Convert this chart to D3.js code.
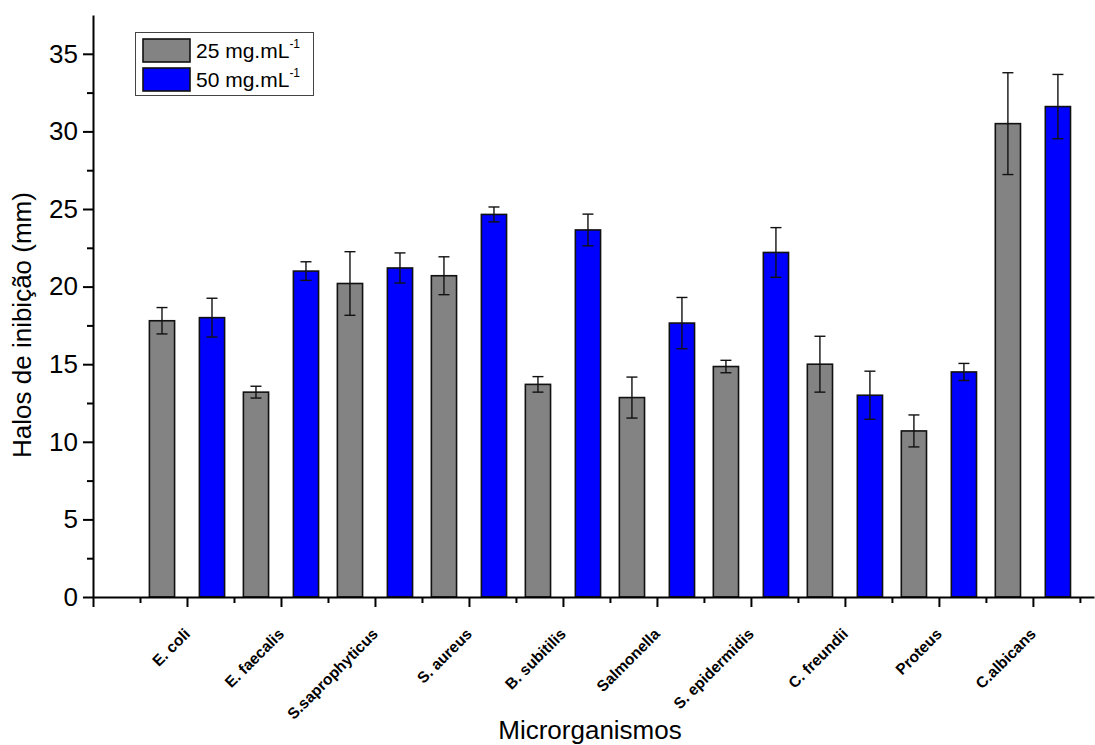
<!DOCTYPE html>
<html>
<head>
<meta charset="utf-8">
<script src="https://cdn.jsdelivr.net/npm/d3@7"></script>
<style>
    body { margin: 0; background: #fff; }
    text { font-family: Arial, "Liberation Sans", sans-serif; fill: #000; }
    .axis path, .axis line { stroke: #000; stroke-width: 2; }
    .catLabel { font-weight: bold; font-size: 15.5px; }
</style>
</head>
<body>
<script>
//wrap everything in a self-executing anonymous function
(function () {

    //chart data
    var categories = ["E. coli", "E. faecalis", "S.saprophyticus", "S. aureus", "B. subitilis",
        "Salmonella", "S. epidermidis", "C. freundii", "Proteus", "C.albicans"];
    var values25 = [17.8, 13.2, 20.2, 20.7, 13.7, 12.85, 14.85, 15.0, 10.7, 30.5];
    var errors25 = [0.85, 0.38, 2.05, 1.22, 0.5, 1.32, 0.4, 1.8, 1.03, 3.28];
    var values50 = [18.0, 21.0, 21.2, 24.65, 23.65, 17.65, 22.2, 13.0, 14.5, 31.6];
    var errors50 = [1.25, 0.6, 0.97, 0.48, 1.02, 1.65, 1.6, 1.55, 0.55, 2.07];
    var seriesNames = ["25 mg.mL", "50 mg.mL"];
    var seriesColors = ["#838383", "#0000ff"];
    var yTicks = [0, 5, 10, 15, 20, 25, 30, 35];

    var width = 1095,
        height = 745;

    var svg = d3.select("body")
        .append("svg")
        .attr("width", width)
        .attr("height", height);

    //scales
    var x = d3.scaleLinear()
        .domain([0, 10.65])
        .range([93, 1094]);

    var y = d3.scaleLinear()
        .domain([0, 37.5])
        .range([597, 15]);

    var offset = 0.266,
        barWidth = x(0.268) - x(0);

    //build a flat table of bars from the arrays
    var bars = [];
    categories.forEach(function (c, i) {
        bars.push({ cat: c, pos: i + 1 - offset, v: values25[i], e: errors25[i], s: 0 });
        bars.push({ cat: c, pos: i + 1 + offset, v: values50[i], e: errors50[i], s: 1 });
    });

    //bars
    svg.selectAll(".bar")
        .data(bars)
        .enter()
        .append("rect")
        .attr("class", "bar")
        .attr("x", function (d) { return x(d.pos) - barWidth / 2; })
        .attr("y", function (d) { return y(d.v); })
        .attr("width", barWidth)
        .attr("height", function (d) { return y(0) - y(d.v); })
        .style("fill", function (d) { return seriesColors[d.s]; })
        .style("stroke", "#111")
        .style("stroke-width", 1.6);

    //error bars
    var err = svg.selectAll(".err")
        .data(bars)
        .enter()
        .append("g")
        .attr("class", "err")
        .style("stroke", "#111")
        .style("stroke-width", 1.4);

    err.append("line")
        .attr("x1", function (d) { return x(d.pos); })
        .attr("x2", function (d) { return x(d.pos); })
        .attr("y1", function (d) { return y(d.v + d.e); })
        .attr("y2", function (d) { return y(d.v - d.e); });

    [1, -1].forEach(function (sign) {
        err.append("line")
            .attr("x1", function (d) { return x(d.pos) - 5.5; })
            .attr("x2", function (d) { return x(d.pos) + 5.5; })
            .attr("y1", function (d) { return y(d.v + sign * d.e); })
            .attr("y2", function (d) { return y(d.v + sign * d.e); });
    });

    //y axis (major + minor ticks)
    var yMinor = svg.append("g")
        .attr("class", "axis")
        .attr("transform", "translate(93,0)")
        .call(d3.axisLeft(y).tickValues(d3.range(2.5, 37.5, 5)).tickSize(6).tickFormat(""));
    yMinor.select(".domain").remove();

    var yAxis = svg.append("g")
        .attr("class", "axis")
        .attr("transform", "translate(93,0)")
        .call(d3.axisLeft(y).tickValues(yTicks).tickSize(10).tickPadding(5).tickSizeOuter(0));
    yAxis.selectAll("text").style("font-size", "26px");

    //x axis (major ticks at categories, minor between)
    var xMinor = svg.append("g")
        .attr("class", "axis")
        .attr("transform", "translate(0,597)")
        .call(d3.axisBottom(x).tickValues(d3.range(0.5, 10.6, 1)).tickSize(6).tickFormat(""));
    xMinor.select(".domain").remove();

    svg.append("g")
        .attr("class", "axis")
        .attr("transform", "translate(0,597)")
        .call(d3.axisBottom(x).tickValues(d3.range(0, 11)).tickSize(10).tickFormat("").tickSizeOuter(0));

    //rotated category labels
    svg.selectAll(".catLabel")
        .data(categories)
        .enter()
        .append("text")
        .attr("class", "catLabel")
        .attr("text-anchor", "end")
        .attr("transform", function (d, i) {
            return "translate(" + (x(i + 1) + 4) + ",635) rotate(-45)";
        })
        .text(function (d) { return d; });

    //axis titles
    svg.append("text")
        .attr("x", 590)
        .attr("y", 739)
        .attr("text-anchor", "middle")
        .style("font-size", "26px")
        .text("Microrganismos");

    svg.append("text")
        .attr("transform", "translate(31,325) rotate(-90)")
        .attr("text-anchor", "middle")
        .style("font-size", "26px")
        .text("Halos de inibição (mm)");

    //legend
    var legend = svg.append("g");
    legend.append("rect")
        .attr("x", 135.5)
        .attr("y", 32.5)
        .attr("width", 178)
        .attr("height", 63)
        .style("fill", "#fff")
        .style("stroke", "#444")
        .style("stroke-width", 1);

    seriesNames.forEach(function (name, i) {
        legend.append("rect")
            .attr("x", 143)
            .attr("y", 39 + i * 29)
            .attr("width", 47)
            .attr("height", 23)
            .style("fill", seriesColors[i])
            .style("stroke", "#111")
            .style("stroke-width", 1.6);
        var t = legend.append("text")
            .attr("x", 196)
            .attr("y", 58 + i * 29)
            .style("font-size", "21px")
            .text(name);
        t.append("tspan")
            .attr("dy", -10)
            .style("font-size", "12px")
            .text("-1");
    });

})();
</script>
</body>
</html>
